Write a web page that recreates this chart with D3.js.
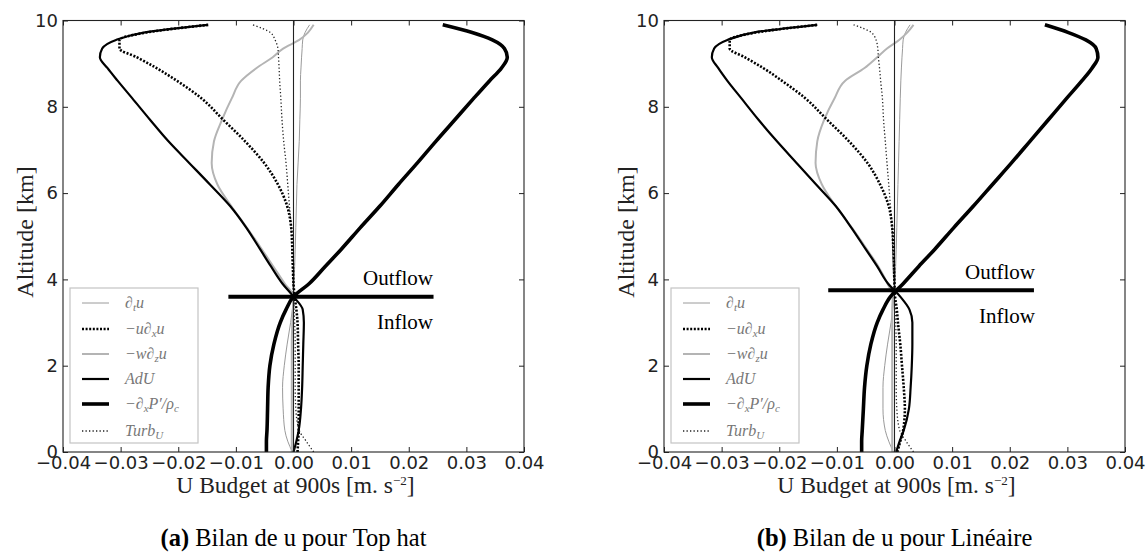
<!DOCTYPE html>
<html>
<head>
<meta charset="utf-8">
<script src="https://cdn.jsdelivr.net/npm/d3@7"></script>
<style>
  html, body { margin: 0; padding: 0; background: #fff; }
  svg { display: block; }
</style>
</head>
<body>
<svg id="fig" width="1147" height="556"></svg>
<script>
// Altitude levels (km) shared by every profile
const altitudeKm = [0, 0.25, 0.5, 1.0, 1.5, 2.0, 2.5, 3.0, 3.3, 3.6, 3.9, 4.3, 4.7, 5.2, 5.7,
                    6.2, 6.7, 7.2, 7.7, 8.2, 8.6, 8.9, 9.15, 9.35, 9.55, 9.72, 9.9];

const xTicks = [-0.04, -0.03, -0.02, -0.01, 0.0, 0.01, 0.02, 0.03, 0.04];
const yTicks = [0, 2, 4, 6, 8, 10];

// ---- Top hat profile budget terms (m s^-2)
const dtU_a   = [-0.0002, -0.0010, -0.0015, -0.0018, -0.0019, -0.0016, -0.0011, -0.0005, -0.0002, 0.0000,
                 0.0001, 0.0002, 0.0003, 0.0004, 0.0005, 0.0006, 0.0008, 0.0010, 0.0011, 0.0012,
                 0.0012, 0.0013, 0.0014, 0.0015, 0.0016, 0.0020, 0.0028];
const uDxU_a  = [0.0007, 0.0008, 0.0009, 0.0009, 0.0009, 0.0009, 0.0008, 0.0007, 0.0005, 0.0002,
                 0.0000, -0.0001, -0.0002, -0.0004, -0.0011, -0.0027, -0.0051, -0.0084, -0.0122, -0.0160,
                 -0.0202, -0.0238, -0.0272, -0.0302, -0.0302, -0.0256, -0.0147];
const wDzU_a  = [-0.0003, -0.0003, -0.0003, -0.0003, -0.0003, -0.0003, -0.0003, -0.0002, -0.0001, 0.0000,
                 -0.0015, -0.0035, -0.0055, -0.0081, -0.0108, -0.0132, -0.0142, -0.0138, -0.0124, -0.0107,
                 -0.0091, -0.0064, -0.0036, -0.0018, 0.0010, 0.0025, 0.0035];
const adU_a   = [0.0000, 0.0005, 0.0009, 0.0013, 0.0015, 0.0016, 0.0017, 0.0018, 0.0016, 0.0000,
                 -0.0019, -0.0039, -0.0058, -0.0082, -0.0110, -0.0145, -0.0181, -0.0217, -0.0249, -0.0280,
                 -0.0305, -0.0323, -0.0336, -0.0332, -0.0308, -0.0260, -0.0149];
const dxP_a   = [-0.0047, -0.0047, -0.0046, -0.0045, -0.0044, -0.0041, -0.0034, -0.0023, -0.0013, 0.0000,
                 0.0027, 0.0055, 0.0083, 0.0116, 0.0150, 0.0182, 0.0215, 0.0247, 0.0280, 0.0313,
                 0.0340, 0.0361, 0.0371, 0.0366, 0.0345, 0.0310, 0.0259];
const turb_a  = [0.0035, 0.0022, 0.0010, 0.0004, 0.0003, 0.0003, 0.0003, 0.0002, 0.0001, 0.0000,
                 -0.0001, -0.0002, -0.0003, -0.0004, -0.0007, -0.0010, -0.0013, -0.0017, -0.0020, -0.0022,
                 -0.0024, -0.0025, -0.0026, -0.0027, -0.0032, -0.0040, -0.0071];

// ---- Linear profile budget terms (m s^-2)
const dtU_b   = [-0.0002, -0.0010, -0.0016, -0.0020, -0.0020, -0.0017, -0.0012, -0.0006, -0.0003, -0.0001,
                 0.0001, 0.0002, 0.0003, 0.0004, 0.0005, 0.0006, 0.0007, 0.0008, 0.0009, 0.0010,
                 0.0011, 0.0012, 0.0013, 0.0014, 0.0015, 0.0019, 0.0027];
const uDxU_b  = [0.0005, 0.0010, 0.0015, 0.0018, 0.0016, 0.0013, 0.0010, 0.0006, 0.0004, 0.0001,
                 0.0000, -0.0001, -0.0002, -0.0004, -0.0010, -0.0025, -0.0047, -0.0079, -0.0117, -0.0155,
                 -0.0195, -0.0228, -0.0260, -0.0286, -0.0286, -0.0241, -0.0133];
const wDzU_b  = [-0.0004, -0.0004, -0.0004, -0.0004, -0.0004, -0.0004, -0.0004, -0.0004, -0.0004, -0.0003,
                 -0.0012, -0.0028, -0.0048, -0.0074, -0.0102, -0.0126, -0.0137, -0.0134, -0.0122, -0.0104,
                 -0.0086, -0.0052, -0.0030, -0.0013, 0.0008, 0.0022, 0.0033];
const adU_b   = [0.0003, 0.0009, 0.0016, 0.0025, 0.0028, 0.0030, 0.0031, 0.0031, 0.0026, 0.0010,
                 -0.0011, -0.0030, -0.0050, -0.0075, -0.0102, -0.0136, -0.0170, -0.0204, -0.0236, -0.0266,
                 -0.0290, -0.0306, -0.0317, -0.0313, -0.0290, -0.0245, -0.0134];
const dxP_b   = [-0.0057, -0.0057, -0.0056, -0.0054, -0.0052, -0.0048, -0.0041, -0.0030, -0.0020, -0.0007,
                 0.0015, 0.0042, 0.0070, 0.0103, 0.0137, 0.0170, 0.0203, 0.0235, 0.0267, 0.0299,
                 0.0325, 0.0343, 0.0353, 0.0350, 0.0332, 0.0302, 0.0261];
const turb_b  = [0.0033, 0.0020, 0.0009, 0.0004, 0.0003, 0.0003, 0.0003, 0.0002, 0.0001, 0.0000,
                 -0.0001, -0.0002, -0.0003, -0.0004, -0.0007, -0.0010, -0.0013, -0.0016, -0.0019, -0.0021,
                 -0.0024, -0.0026, -0.0028, -0.0029, -0.0032, -0.0040, -0.0071];

// Outflow / inflow separation markers
const flowBoundaryKm = [3.6, 3.75];
const flowBarStart   = [-0.0113, -0.0115];
const flowBarEnd     = [0.0243, 0.0242];
const flowLabels     = ["Outflow", "Inflow"];

const panelLetters  = ["(a)", "(b)"];
const panelCaptions = [" Bilan de u pour Top hat", " Bilan de u pour Linéaire"];
const xAxisTitle = "U Budget at 900s ";
const yAxisTitle = "Altitude [km]";

// ---------------------------------------------------------------
const svg = d3.select("#fig");

const termStyles = [
  { key: "dtU",  color: "#9a9a9a", width: 1.0, dash: null },
  { key: "wDzU", color: "#b4b4b4", width: 2.0, dash: null },
  { key: "turb", color: "#222",    width: 1.3, dash: "1.3,2.2" },
  { key: "uDxU", color: "#000",    width: 2.6, dash: "2,1.6" },
  { key: "adU",  color: "#000",    width: 2.2, dash: null },
  { key: "dxP",  color: "#000",    width: 3.6, dash: null }
];

const panels = [
  { left: 63,  right: 524, series: { dtU: dtU_a, uDxU: uDxU_a, wDzU: wDzU_a, adU: adU_a, dxP: dxP_a, turb: turb_a },
    outY: 285, inY: 329, textRight: 433 },
  { left: 664, right: 1125, series: { dtU: dtU_b, uDxU: uDxU_b, wDzU: wDzU_b, adU: adU_b, dxP: dxP_b, turb: turb_b },
    outY: 279, inY: 323, textRight: 1035 }
];

const plotTop = 20.5, plotBottom = 452;

// legend rows: sample style key + label pieces [text, isSubscript]
const legendRows = [
  { key: "dtU",  parts: [["∂", 0], ["t", 1], ["u", 0]] },
  { key: "uDxU", parts: [["−u∂", 0], ["x", 1], ["u", 0]] },
  { key: "wDzU", parts: [["−w∂", 0], ["z", 1], ["u", 0]] },
  { key: "adU",  parts: [["AdU", 0]] },
  { key: "dxP",  parts: [["−∂", 0], ["x", 1], ["P′/ρ", 0], ["c", 1]] },
  { key: "turb", parts: [["Turb", 0], ["U", 1]] }
];
const legendOffsets = [15, 41, 66, 91, 116, 143];

panels.forEach((p, i) => {
  const x = d3.scaleLinear().domain([-0.04, 0.04]).range([p.left, p.right]);
  const y = d3.scaleLinear().domain([0, 10]).range([plotBottom, plotTop]);
  const g = svg.append("g");

  const clipId = "clip" + i;
  svg.append("clipPath").attr("id", clipId)
    .append("rect").attr("x", p.left).attr("y", plotTop).attr("width", p.right - p.left).attr("height", plotBottom - plotTop);

  const plot = g.append("g").attr("clip-path", `url(#${clipId})`);

  const line = d3.line()
    .x(d => x(d[1]))
    .y(d => y(d[0]))
    .curve(d3.curveMonotoneY);

  const drawTerm = s => {
    plot.append("path")
      .datum(altitudeKm.map((z, k) => [z, p.series[s.key][k]]))
      .attr("d", line).attr("fill", "none")
      .attr("stroke", s.color).attr("stroke-width", s.width)
      .attr("stroke-dasharray", s.dash);
  };

  // light grey terms first, then the zero line, then the dark terms
  termStyles.slice(0, 2).forEach(drawTerm);
  plot.append("line")
    .attr("x1", x(0)).attr("x2", x(0)).attr("y1", y(0)).attr("y2", y(10))
    .attr("stroke", "#222").attr("stroke-width", 1.1);
  termStyles.slice(2).forEach(drawTerm);

  // axes with inward ticks on all four sides
  const styleAxis = sel => {
    sel.select(".domain").remove();
    sel.selectAll(".tick line").attr("stroke", "#222");
    sel.selectAll("text").attr("font-family", "DejaVu Sans").attr("font-size", 18).attr("fill", "#222");
  };
  g.append("g").attr("transform", `translate(0,${plotBottom})`)
    .call(d3.axisBottom(x).tickValues(xTicks).tickFormat(d3.format(".2f"))
      .tickSizeInner(-5).tickSizeOuter(0).tickPadding(4))
    .call(styleAxis);
  g.append("g").attr("transform", `translate(0,${plotTop})`)
    .call(d3.axisTop(x).tickValues(xTicks).tickFormat("").tickSizeInner(-5).tickSizeOuter(0))
    .call(styleAxis);
  g.append("g").attr("transform", `translate(${p.left},0)`)
    .call(d3.axisLeft(y).tickValues(yTicks).tickFormat(d3.format("d"))
      .tickSizeInner(-5).tickSizeOuter(0).tickPadding(5))
    .call(styleAxis);
  g.append("g").attr("transform", `translate(${p.right},0)`)
    .call(d3.axisRight(y).tickValues(yTicks).tickFormat("").tickSizeInner(-5).tickSizeOuter(0))
    .call(styleAxis);

  g.append("rect")
    .attr("x", p.left).attr("y", plotTop).attr("width", p.right - p.left).attr("height", plotBottom - plotTop)
    .attr("fill", "none").attr("stroke", "#222").attr("stroke-width", 1.1);

  // legend
  const lg = g.append("g").attr("transform", `translate(${p.left + 7},${288})`);
  lg.append("rect").attr("x", 0).attr("y", 0).attr("width", 128).attr("height", 155)
    .attr("fill", "#fff").attr("stroke", "#c4c4c4").attr("stroke-width", 1.2);
  legendRows.forEach((row, r) => {
    const s = termStyles.find(t => t.key === row.key);
    const ly = legendOffsets[r];
    lg.append("line").attr("x1", 12).attr("x2", 39).attr("y1", ly).attr("y2", ly)
      .attr("stroke", s.color).attr("stroke-width", s.width).attr("stroke-dasharray", s.dash);
    const t = lg.append("text").attr("x", 55).attr("y", ly + 5)
      .attr("font-family", "Liberation Serif").attr("font-style", "italic")
      .attr("font-size", 16).attr("fill", "#777");
    let shifted = false;
    row.parts.forEach(([txt, sub]) => {
      const ts = t.append("tspan").text(txt);
      if (sub) { ts.attr("font-size", 11).attr("dy", shifted ? 0 : 3); shifted = true; }
      else { ts.attr("dy", shifted ? -3 : 0); shifted = false; }
    });
  });

  // axis titles
  const xt = g.append("text").attr("x", (p.left + p.right) / 2 + 2).attr("y", 493)
    .attr("text-anchor", "middle").attr("font-family", "Liberation Serif").attr("font-size", 23.5).attr("fill", "#222");
  xt.append("tspan").text(xAxisTitle + "[m. s");
  xt.append("tspan").text("−2").attr("font-size", 13).attr("dy", -8);
  xt.append("tspan").text("]").attr("dy", 8);

  g.append("text")
    .attr("transform", `translate(${p.left - 30},${232}) rotate(-90)`)
    .attr("text-anchor", "middle").attr("font-family", "Liberation Serif").attr("font-size", 24).attr("fill", "#222")
    .text(yAxisTitle);

  // outflow / inflow boundary
  g.append("line")
    .attr("x1", x(flowBarStart[i])).attr("x2", x(flowBarEnd[i]))
    .attr("y1", y(flowBoundaryKm[i])).attr("y2", y(flowBoundaryKm[i]))
    .attr("stroke", "#000").attr("stroke-width", 4);
  g.append("text").attr("x", p.textRight).attr("y", p.outY).attr("text-anchor", "end")
    .attr("font-family", "Liberation Serif").attr("font-size", 21).attr("fill", "#000").text(flowLabels[0]);
  g.append("text").attr("x", p.textRight).attr("y", p.inY).attr("text-anchor", "end")
    .attr("font-family", "Liberation Serif").attr("font-size", 21).attr("fill", "#000").text(flowLabels[1]);

  // caption
  const cap = svg.append("text").attr("x", (p.left + p.right) / 2).attr("y", 546)
    .attr("text-anchor", "middle").attr("font-family", "Liberation Serif").attr("font-size", 24.5).attr("fill", "#000");
  cap.append("tspan").attr("font-weight", "bold").text(panelLetters[i]);
  cap.append("tspan").text(panelCaptions[i]);
});
</script>
</body>
</html>
